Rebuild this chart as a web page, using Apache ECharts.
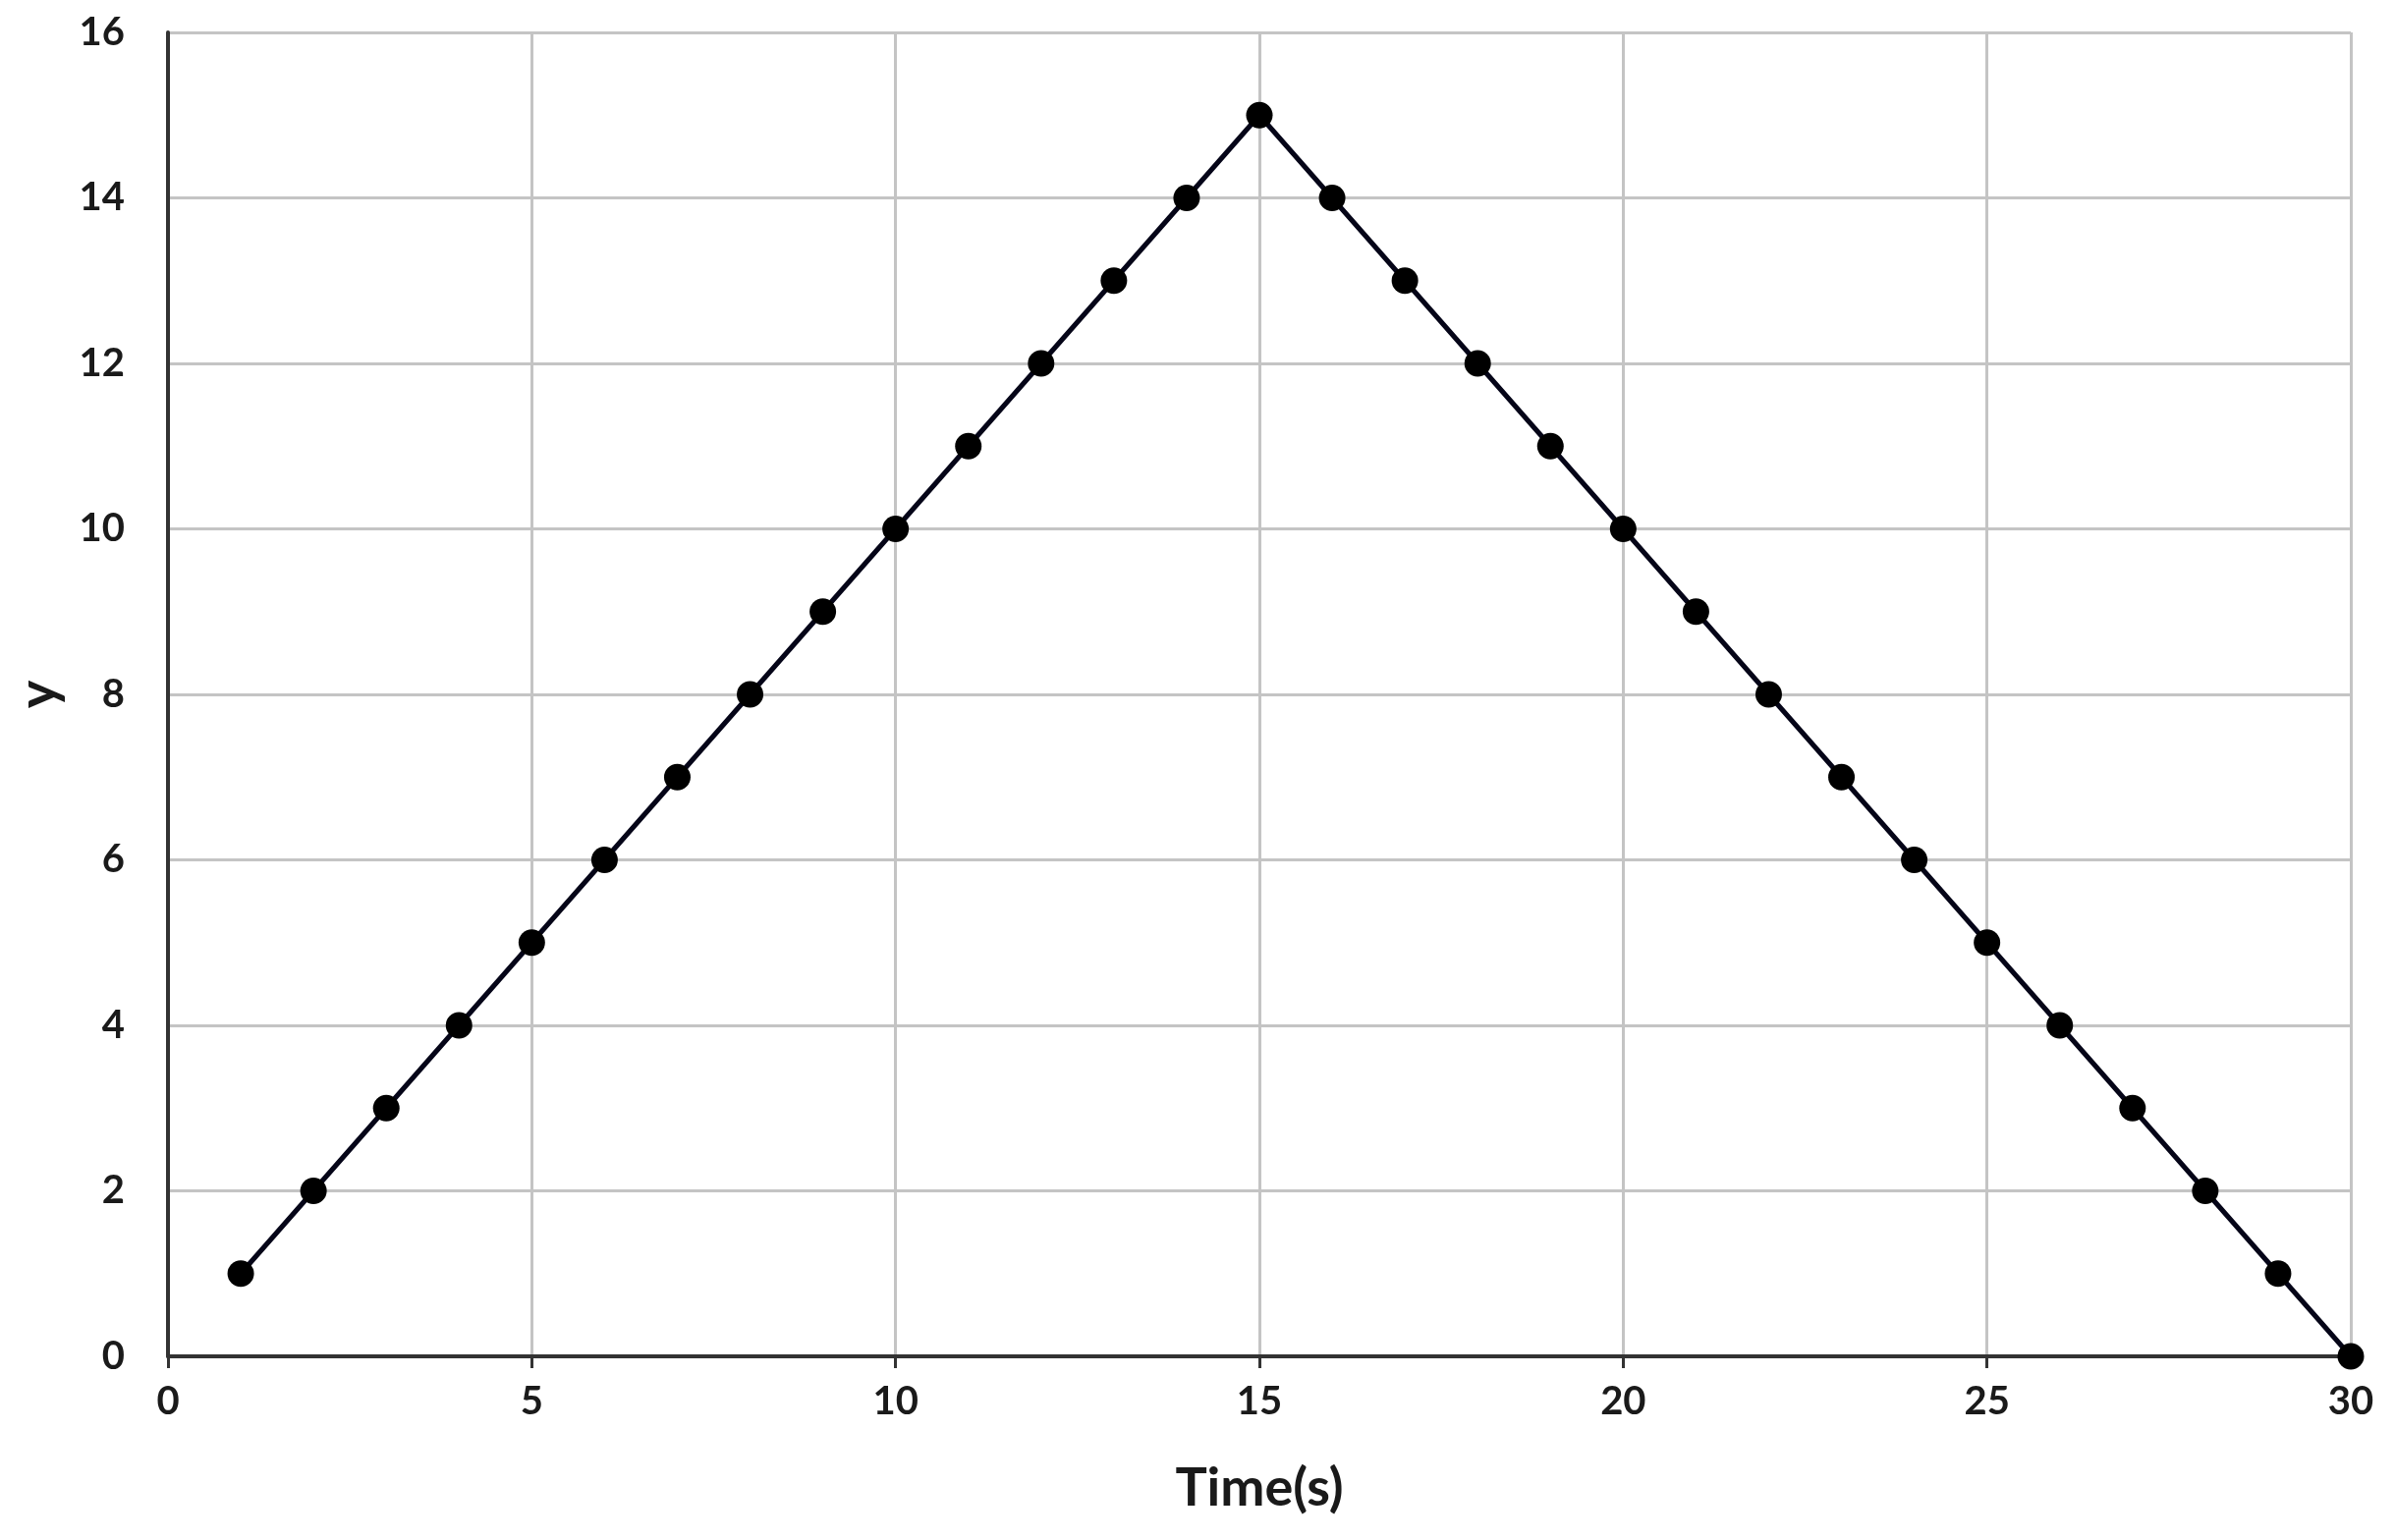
<!DOCTYPE html>
<html>
	<head>
		<meta charset="utf-8">
		<title>y vs Time</title>
		<script src="https://cdn.jsdelivr.net/npm/echarts@6/dist/echarts.min.js"></script>
		<style>
			html, body { margin: 0; padding: 0; background: #fff; }
			#main { width: 2438px; height: 1568px; }
		</style>
	</head>
	<body>
		<div id="main"></div>
		<script type="text/javascript">
			// 数据
			var timeValues = [1, 2, 3, 4, 5, 6, 7, 8, 9, 10, 11, 12, 13, 14, 15, 16, 17, 18, 19, 20, 21, 22, 23, 24, 25, 26, 27, 28, 29, 30];
			var yValues = [1, 2, 3, 4, 5, 6, 7, 8, 9, 10, 11, 12, 13, 14, 15, 14, 13, 12, 11, 10, 9, 8, 7, 6, 5, 4, 3, 2, 1, 0];
			var xTicks = [0, 5, 10, 15, 20, 25, 30];
			var yTicks = [0, 2, 4, 6, 8, 10, 12, 14, 16];

			var points = [];
			for (var i = 0; i < timeValues.length; i++) {
				points.push([timeValues[i], yValues[i]]);
			}

			var myChart = echarts.init(document.getElementById('main'));
			var font = 'Lato, "Open Sans", sans-serif';
			var option = {
				animation: false,
				grid: {
					left: 171,
					right: 45,
					top: 33,
					bottom: 187,
					containLabel: false,
					outerBoundsMode: 'none'
				},
				xAxis: {
					type: 'value',
					min: xTicks[0],
					max: xTicks[xTicks.length - 1],
					interval: 5,
					name: 'Time(s)',
					nameLocation: 'middle',
					nameGap: 108,
					nameTextStyle: { fontSize: 54, color: '#1a1a1a', fontFamily: font, fontWeight: 'bold' },
					axisLine: { show: true, lineStyle: { color: '#333', width: 4 } },
					axisTick: { show: true, length: 12, lineStyle: { color: '#333', width: 3 } },
					axisLabel: { fontSize: 40, color: '#1a1a1a', margin: 26, fontFamily: font, fontWeight: 'bold' },
					splitLine: { show: true, lineStyle: { color: '#c4c4c4', width: 3 } }
				},
				yAxis: {
					type: 'value',
					min: yTicks[0],
					max: yTicks[yTicks.length - 1],
					interval: 2,
					name: 'y',
					nameLocation: 'middle',
					nameGap: 104,
					nameRotate: 90,
					nameTextStyle: { fontSize: 54, color: '#1a1a1a', fontFamily: font, fontWeight: 'bold' },
					axisLine: { show: true, lineStyle: { color: '#333', width: 4 } },
					axisTick: { show: false },
					axisLabel: { fontSize: 40, color: '#1a1a1a', margin: 44, fontFamily: font, fontWeight: 'bold' },
					splitLine: { show: true, lineStyle: { color: '#c4c4c4', width: 3 } }
				},
				series: [{
					type: 'line',
					data: points,
					symbol: 'circle',
					symbolSize: 27,
					itemStyle: { color: '#000' },
					lineStyle: { color: '#050518', width: 5 }
				}]
			};
			myChart.setOption(option);
		</script>
	</body>
</html>
